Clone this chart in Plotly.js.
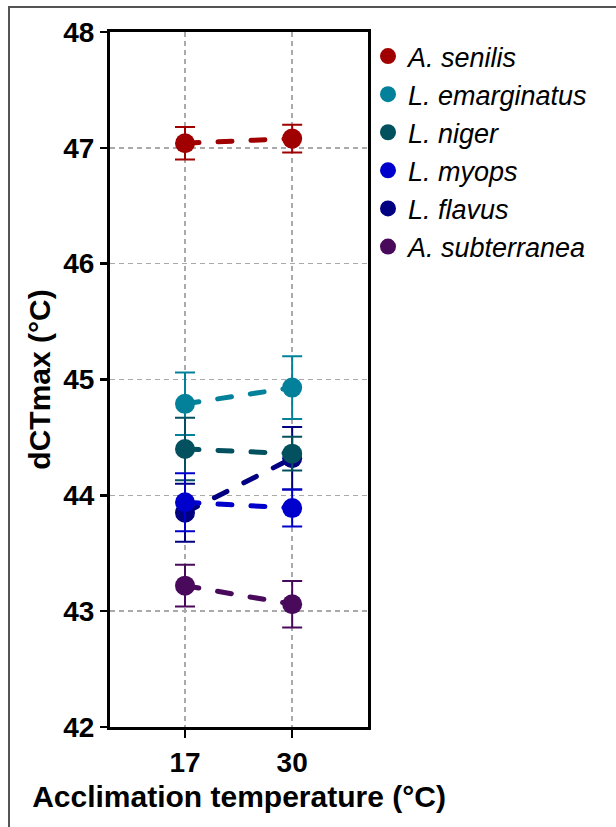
<!DOCTYPE html>
<html>
<head>
<meta charset="utf-8">
<script src="https://cdn.plot.ly/plotly-3.0.1.min.js"></script>
<style>
html, body { margin:0; padding:0; background:#fff; overflow:hidden; }
#chart { width:616px; height:827px; }
#frame { position:absolute; left:8px; top:6px; width:800px; height:1000px; border:2px solid #555; pointer-events:none; }
.scatterlayer .js-line { stroke-linecap: round; }
</style>
</head>
<body>
<div id="chart"></div>
<div id="frame"></div>
<script>
// Acclimation temperatures (°C)
const temps = [17, 30];
const tempLabels = ["17", "30"];
// Species (legend order)
const species = ["A. senilis", "L. emarginatus", "L. niger", "L. myops", "L. flavus", "A. subterranea"];
// Mean dCTmax (°C) per species at 17 and 30
const aSenilis      = [47.04, 47.08];
const lEmarginatus  = [44.79, 44.93];
const lNiger        = [44.40, 44.36];
const lMyops        = [43.94, 43.89];
const lFlavus       = [43.85, 44.32];
const aSubterranea  = [43.22, 43.06];
// Error (±) per species
const errSenilis     = [0.14, 0.12];
const errEmarginatus = [0.27, 0.27];
const errNiger       = [0.27, 0.145];
const errMyops       = [0.25, 0.16];
const errFlavus      = [0.25, 0.27];
const errSubterranea = [0.18, 0.20];

const colors = ["#a00000", "#03819a", "#03505f", "#0000cc", "#000080", "#4a0a5c"];
const means = [aSenilis, lEmarginatus, lNiger, lMyops, lFlavus, aSubterranea];
const errs = [errSenilis, errEmarginatus, errNiger, errMyops, errFlavus, errSubterranea];

// drawing order (later on top)
const drawOrder = [4, 5, 0, 1, 2, 3];

const lineTraces = drawOrder.map(i => ({
  type: 'scatter', mode: 'lines', showlegend: false,
  name: species[i], x: temps, y: means[i],
  line: { color: colors[i], width: 5, dash: '14px,19px' }
}));
const pointTraces = drawOrder.map(i => ({
  type: 'scatter', mode: 'markers',
  name: species[i], legendrank: i + 1,
  x: temps, y: means[i],
  marker: { color: colors[i], size: 20 },
  error_y: { type: 'data', array: errs[i], visible: true, color: colors[i], thickness: 2, width: 10 }
}));

const layout = {
  width: 616, height: 827,
  margin: { l: 110, r: 248, t: 32, b: 100 },
  paper_bgcolor: '#fff', plot_bgcolor: '#fff',
  font: { family: '"Liberation Sans", Arial, sans-serif', color: '#000' },
  showlegend: true,
  legend: {
    x: 1.0, xanchor: 'left', y: 1.0, yanchor: 'top',
    font: { size: 27, style: 'italic', color: '#000' },
    traceorder: 'normal', itemsizing: 'trace',
    bgcolor: 'rgba(0,0,0,0)'
  },
  xaxis: {
    range: [7.9, 39.2],
    tickvals: temps, ticktext: tempLabels,
    showline: true, mirror: true, linewidth: 3, linecolor: '#000',
    ticks: 'outside', ticklen: 8, tickwidth: 2.5, tickcolor: '#000',
    showgrid: true, gridcolor: '#aaaaaa', gridwidth: 1.5, griddash: '5px,4px',
    zeroline: false,
    tickfont: { size: 28, weight: 'bold' },
    title: { text: 'Acclimation temperature (°C)', font: { size: 30, weight: 'bold' }, standoff: 10 }
  },
  yaxis: {
    range: [42, 48],
    tickvals: [42, 43, 44, 45, 46, 47, 48],
    showline: true, mirror: true, linewidth: 3, linecolor: '#000',
    ticks: 'outside', ticklen: 7, tickwidth: 2.5, tickcolor: '#000',
    showgrid: true, gridcolor: '#aaaaaa', gridwidth: 1.5, griddash: '5px,4px',
    zeroline: false,
    tickfont: { size: 28, weight: 'bold' },
    title: { text: 'dCTmax (°C)', font: { size: 30, weight: 'bold' }, standoff: 4 }
  }
};

Plotly.newPlot('chart', lineTraces.concat(pointTraces), layout, { displayModeBar: false, staticPlot: true });
</script>
</body>
</html>
